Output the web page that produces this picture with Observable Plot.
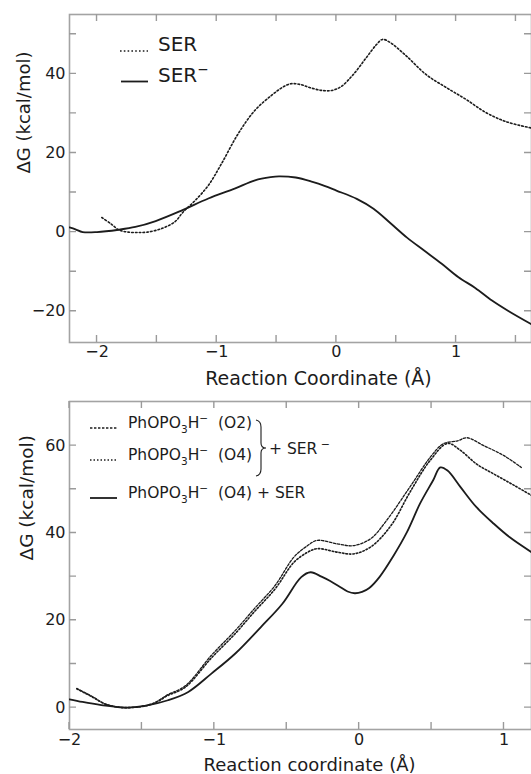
<!DOCTYPE html>
<html><head><meta charset="utf-8">
<script src="https://cdn.jsdelivr.net/npm/d3@7"></script>
<script src="https://cdn.jsdelivr.net/npm/@observablehq/plot@0.6"></script>
<style>
body{margin:0;background:#fff;overflow:hidden}
svg{display:block}
</style>
</head><body><div id="chart"></div>
<script>
const FONT = "DejaVu Sans";
const INK = "#1c1c1c";
const GRAY = "#a3a3a3";
const TICK = "#9a9a9a";

// ---------- Top panel data ----------
const serX = [-1.96,-1.88,-1.82,-1.74,-1.66,-1.58,-1.46,-1.35,-1.28,-1.18,-1.07,-0.96,-0.82,-0.68,-0.54,-0.45,-0.38,-0.30,-0.22,-0.12,-0.04,0.04,0.14,0.25,0.335,0.385,0.45,0.585,0.75,0.92,1.085,1.25,1.42,1.63];
const serY = [3.7,2.0,0.6,0.0,-0.1,0.0,0.9,2.6,5.1,8.0,11.8,17.3,24.9,30.8,34.6,36.6,37.5,37.3,36.5,35.8,35.8,36.8,39.8,44.1,47.4,48.7,47.9,44.5,39.8,36.5,33.5,30.2,27.9,26.3];
const serMinusX = [-2.23,-2.18,-2.12,-2.0,-1.82,-1.68,-1.51,-1.29,-1.07,-0.85,-0.68,-0.55,-0.48,-0.34,-0.2,-0.1,0,0.17,0.31,0.45,0.59,0.73,0.88,1.02,1.16,1.30,1.44,1.63];
const serMinusY = [1.2,0.7,0.0,0.0,0.6,1.3,2.8,5.5,8.5,11.0,13.1,13.9,14.1,13.8,12.7,11.7,10.5,8.4,5.9,2.3,-1.4,-4.6,-8.0,-11.4,-14.1,-17.3,-20.0,-23.3];
const topXMajor = [-2,-1,0,1];
const topXMinor = [-1.5,-0.5,0.5,1.5];
const topYMajor = [-20,0,20,40];
const topYMinor = [-10,10,30,50];

// ---------- Bottom panel data ----------
const o2X = [-1.95,-1.84,-1.75,-1.61,-1.43,-1.32,-1.20,-1.02,-0.86,-0.72,-0.58,-0.45,-0.36,-0.29,-0.15,-0.04,0.08,0.19,0.35,0.49,0.58,0.68,0.745,0.86,1.0,1.12];
const o2Y = [4.4,2.5,0.8,0.0,0.9,3.0,5.0,12.0,17.5,22.8,28.0,34.5,37.0,38.3,37.5,37.1,38.7,42.9,50.5,57.3,60.4,61.1,61.8,60.0,57.7,55.0];
const o4X = [-1.95,-1.84,-1.75,-1.61,-1.43,-1.32,-1.20,-1.02,-0.86,-0.72,-0.58,-0.45,-0.36,-0.29,-0.15,-0.04,0.08,0.22,0.35,0.49,0.61,0.70,0.81,0.93,1.07,1.19];
const o4Y = [4.3,2.4,0.8,0.0,0.8,2.8,4.7,11.4,16.8,22.1,27.2,33.3,35.5,36.4,35.6,35.2,36.8,41.7,49.3,56.6,60.5,58.9,55.8,53.5,50.9,48.6];
const serNeutX = [-2.0,-1.91,-1.78,-1.61,-1.48,-1.32,-1.18,-1.02,-0.855,-0.68,-0.53,-0.40,-0.335,-0.26,-0.2,-0.14,-0.08,-0.03,0.02,0.07,0.14,0.23,0.33,0.42,0.51,0.56,0.61,0.70,0.81,0.93,1.04,1.19];
const serNeutY = [1.9,1.3,0.6,0.0,0.4,1.7,3.6,7.8,12.4,18.4,23.8,29.9,31.0,30.0,29.0,27.8,26.6,26.2,26.5,27.4,29.9,34.4,40.2,46.7,52.0,55.0,54.3,50.5,45.9,42.1,39.0,35.6];
const botXMajor = [-2,-1,0,1];
const botXMinor = [-1.5,-0.5,0.5];
const botYMajor = [0,20,40,60];
const botYMinor = [10,30,50];

const rows = (xs, ys) => xs.map((x, i) => ({x, y: ys[i]}));
const fmt = d => (d < 0 ? "−" : "") + Math.abs(d);

// legend drawn as a custom render mark
function legendMark(items, extra) {
  return () => {
    const g = d3.create("svg:g").attr("font-family", FONT).attr("fill", INK).attr("text-anchor", "start");
    for (const it of items) {
      const l = g.append("line").attr("x1", it.x1).attr("x2", it.x2)
        .attr("y1", it.y).attr("y2", it.y).attr("stroke", INK)
        .attr("stroke-width", it.sw);
      if (it.dash) l.attr("stroke-dasharray", it.dash);
      const t = g.append("text").attr("x", it.tx).attr("y", it.y)
        .attr("dy", "0.36em").attr("font-size", it.size).style("white-space", "pre");
      let shift = 0;
      for (const [s, kind] of it.parts) {
        const target = kind === "sup" ? -it.size * 0.38 : kind === "sub" ? it.size * 0.32 : 0;
        const ts = t.append("tspan").text(s).attr("dy", target - shift);
        if (kind !== "n") ts.attr("font-size", it.size * 0.68);
        shift = target;
      }
    }
    if (extra) extra(g);
    return g.node();
  };
}

// inward ticks on all four sides, placed through the plot's scales
function ticksMark(xs, ys, L) {
  return (index, scales, values, dims) => {
    const x0 = dims.marginLeft, x1 = dims.width - dims.marginRight;
    const y0 = dims.marginTop, y1 = dims.height - dims.marginBottom;
    const g = d3.create("svg:g").attr("stroke", TICK).attr("stroke-width", 1.4).attr("fill", "none");
    let d = "";
    for (const v of xs) {
      const p = scales.x(v);
      d += `M${p},${y1}V${y1 - L}M${p},${y0}V${y0 + L}`;
    }
    for (const v of ys) {
      const p = scales.y(v);
      d += `M${x0},${p}H${x0 + L}M${x1},${p}H${x1 - L}`;
    }
    g.append("path").attr("d", d);
    return g.node();
  };
}

// ---------- Top plot ----------
const W = 531;
const topCfg = {h: 390, mt: 14, mb: 48, ml: 69, mr: 0};

const topLegend = legendMark([
  {x1: 120, x2: 148, y: 51, sw: 1.6, dash: "1.6,2.2", tx: 158, size: 20, parts: [["SER", "n"]]},
  {x1: 121, x2: 148, y: 81.5, sw: 1.8, tx: 158, size: 20, parts: [["SER", "n"], ["−", "sup"]]}
]);

const plotTop = Plot.plot({
  width: W, height: topCfg.h,
  marginTop: topCfg.mt, marginBottom: topCfg.mb, marginLeft: topCfg.ml, marginRight: topCfg.mr,
  style: {fontFamily: FONT, fontSize: "16px", color: INK, background: "#fff"},
  x: {domain: [-2.23, 1.63]},
  y: {domain: [-27.9, 55.0]},
  marks: [
    Plot.frame({stroke: GRAY, strokeWidth: 1.6}),
    ticksMark(topXMajor.concat(topXMinor), topYMajor.concat(topYMinor), 7),
    Plot.axisX(topXMajor, {anchor: "bottom", tickSize: 0, tickPadding: 3, fontSize: 16, label: null, tickFormat: fmt}),
    Plot.axisY(topYMajor, {anchor: "left", tickSize: 0, tickPadding: 4, fontSize: 16, label: null, tickFormat: fmt}),
    Plot.line(rows(serX, serY), {x: "x", y: "y", curve: "catmull-rom", stroke: INK, strokeWidth: 1.6, strokeDasharray: "1.6,2.2", clip: true}),
    Plot.line(rows(serMinusX, serMinusY), {x: "x", y: "y", curve: "catmull-rom", stroke: INK, strokeWidth: 1.8, clip: true}),
    Plot.text(["Reaction Coordinate (Å)"], {frameAnchor: "bottom", text: d => d, dx: 18, dy: 42, fontSize: 19, fill: INK}),
    Plot.text(["ΔG (kcal/mol)"], {frameAnchor: "left", text: d => d, rotate: -90, dx: -45, dy: -5, fontSize: 18, fill: INK}),
    topLegend
  ]
});

// ---------- Bottom plot ----------
const botCfg = {h: 384, mt: 11, mb: 45, ml: 69, mr: 0};
const phParts = tail => [["PhOPO", "n"], ["3", "sub"], ["H", "n"], ["−", "sup"], [tail, "n"]];

const botLegend = legendMark([
  {x1: 90, x2: 117, y: 38, sw: 1.3, dash: "2.4,1.6", tx: 128, size: 15.5, parts: phParts("  (O2)")},
  {x1: 90, x2: 117, y: 70, sw: 1.6, dash: "1.5,2", tx: 128, size: 15.5, parts: phParts("  (O4)")},
  {x1: 90, x2: 117, y: 108, sw: 1.8, tx: 128, size: 15.5, parts: phParts("  (O4) + SER")}
], g => {
  g.append("path").attr("d", "M256,30 Q261,31 261,37 L261,53 Q261,58 266,58 Q261,58 261,63 L261,79 Q261,85 256,86")
    .attr("fill", "none").attr("stroke", INK).attr("stroke-width", 1.1);
  const t = g.append("text").attr("x", 269).attr("y", 58).attr("dy", "0.36em").attr("font-size", 15.5).style("white-space", "pre");
  t.append("tspan").text("+ SER");
  t.append("tspan").text(" −").attr("font-size", 11).attr("dy", -6);
});

const plotBot = Plot.plot({
  width: W, height: botCfg.h,
  marginTop: botCfg.mt, marginBottom: botCfg.mb, marginLeft: botCfg.ml, marginRight: botCfg.mr,
  style: {fontFamily: FONT, fontSize: "16px", color: INK, background: "#fff"},
  x: {domain: [-2.0, 1.19]},
  y: {domain: [-5.0, 70.1]},
  marks: [
    Plot.frame({stroke: GRAY, strokeWidth: 1.6}),
    ticksMark(botXMajor.concat(botXMinor), botYMajor.concat(botYMinor), 7),
    Plot.axisX(botXMajor, {anchor: "bottom", tickSize: 0, tickPadding: 4, fontSize: 16, label: null, tickFormat: fmt}),
    Plot.axisY(botYMajor, {anchor: "left", tickSize: 0, tickPadding: 4, fontSize: 16, label: null, tickFormat: fmt}),
    Plot.line(rows(o2X, o2Y), {x: "x", y: "y", curve: "catmull-rom", stroke: INK, strokeWidth: 1.3, strokeDasharray: "2.4,1.6", clip: true}),
    Plot.line(rows(o4X, o4Y), {x: "x", y: "y", curve: "catmull-rom", stroke: INK, strokeWidth: 1.6, strokeDasharray: "1.5,2", clip: true}),
    Plot.line(rows(serNeutX, serNeutY), {x: "x", y: "y", curve: "catmull-rom", stroke: INK, strokeWidth: 1.8, clip: true}),
    Plot.text(["Reaction coordinate (Å)"], {frameAnchor: "bottom", text: d => d, dx: 9, dy: 41, fontSize: 18, fill: INK}),
    Plot.text(["ΔG (kcal/mol)"], {frameAnchor: "left", text: d => d, rotate: -90, dx: -42, dy: -5, fontSize: 18.5, fill: INK}),
    botLegend
  ]
});

const root = document.getElementById("chart");
root.appendChild(plotTop);
root.appendChild(plotBot);
</script>
</body></html>
